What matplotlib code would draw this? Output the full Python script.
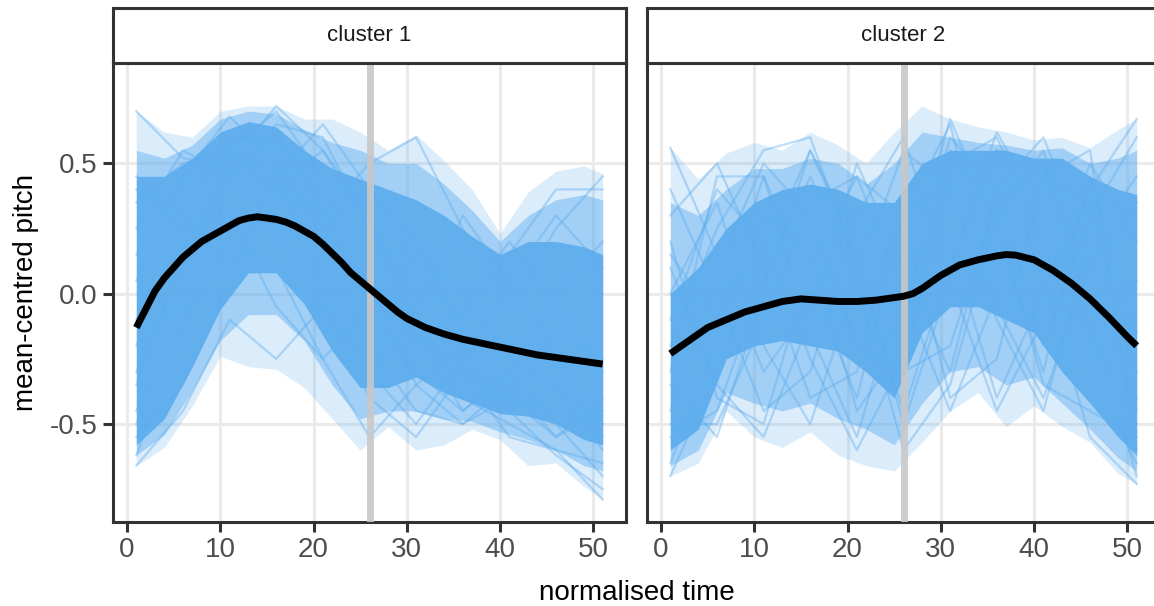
import matplotlib.pyplot as plt
import numpy as np

plt.rcParams['font.family'] = ['Liberation Sans', 'DejaVu Sans']

### Data ###

panel_titles = ['cluster 1', 'cluster 2']
boundary_time = 26

# envelope knots: outer fringe, medium-density band, dense core
env_time = [1, 4, 7, 10, 13, 16, 19, 22, 25, 28, 31, 34, 37, 40, 43, 46, 49, 51]

c1_outer_hi = [0.70, 0.62, 0.60, 0.70, 0.72, 0.72, 0.67, 0.67, 0.62, 0.55, 0.61, 0.51, 0.40, 0.23, 0.39, 0.47, 0.49, 0.46]
c1_outer_lo = [-0.66, -0.59, -0.43, -0.24, -0.28, -0.29, -0.36, -0.48, -0.60, -0.51, -0.60, -0.58, -0.52, -0.56, -0.66, -0.65, -0.74, -0.79]
c1_mid_hi = [0.55, 0.52, 0.57, 0.67, 0.70, 0.69, 0.63, 0.58, 0.55, 0.50, 0.50, 0.42, 0.32, 0.20, 0.30, 0.36, 0.38, 0.36]
c1_mid_lo = [-0.62, -0.54, -0.37, -0.18, -0.08, -0.08, -0.18, -0.35, -0.48, -0.45, -0.45, -0.48, -0.49, -0.53, -0.56, -0.60, -0.66, -0.68]
c1_core_hi = [0.45, 0.45, 0.52, 0.62, 0.66, 0.64, 0.55, 0.48, 0.44, 0.40, 0.36, 0.30, 0.22, 0.15, 0.20, 0.20, 0.18, 0.15]
c1_core_lo = [-0.58, -0.48, -0.28, -0.06, 0.08, 0.08, -0.04, -0.22, -0.36, -0.36, -0.32, -0.38, -0.42, -0.46, -0.47, -0.50, -0.56, -0.58]

c2_outer_hi = [0.56, 0.44, 0.54, 0.58, 0.55, 0.62, 0.57, 0.50, 0.62, 0.72, 0.67, 0.64, 0.62, 0.59, 0.60, 0.56, 0.63, 0.67]
c2_outer_lo = [-0.70, -0.65, -0.45, -0.55, -0.59, -0.53, -0.62, -0.66, -0.68, -0.57, -0.45, -0.38, -0.51, -0.43, -0.51, -0.57, -0.69, -0.73]
c2_mid_hi = [0.35, 0.30, 0.40, 0.48, 0.48, 0.52, 0.50, 0.42, 0.50, 0.62, 0.60, 0.58, 0.57, 0.55, 0.56, 0.50, 0.52, 0.55]
c2_mid_lo = [-0.66, -0.60, -0.38, -0.42, -0.45, -0.42, -0.48, -0.52, -0.58, -0.42, -0.30, -0.28, -0.35, -0.32, -0.42, -0.52, -0.63, -0.68]
c2_core_hi = [0.00, 0.10, 0.25, 0.35, 0.40, 0.42, 0.40, 0.35, 0.35, 0.50, 0.55, 0.55, 0.55, 0.52, 0.52, 0.45, 0.40, 0.38]
c2_core_lo = [-0.60, -0.52, -0.25, -0.20, -0.18, -0.20, -0.22, -0.30, -0.40, -0.15, -0.05, -0.05, -0.10, -0.15, -0.30, -0.42, -0.55, -0.62]

# individual trajectories, sampled every 5 steps
trace_time = [1, 6, 11, 16, 21, 26, 31, 36, 41, 46, 51]

c1_traces = [
    [0.70, 0.52, 0.50, 0.40, 0.20, 0.05, -0.15, -0.30, -0.40, -0.45, -0.50],
    [-0.62, -0.15, 0.45, 0.62, 0.30, -0.05, -0.30, -0.45, -0.30, -0.50, -0.70],
    [-0.45, 0.00, 0.55, 0.70, 0.45, 0.05, -0.35, -0.20, -0.45, -0.35, -0.60],
    [-0.20, 0.25, 0.62, 0.55, 0.20, -0.20, -0.45, -0.50, -0.35, -0.55, -0.45],
    [0.35, 0.50, 0.55, 0.40, 0.30, 0.50, 0.60, 0.25, -0.05, 0.25, 0.45],
    [-0.66, -0.45, -0.10, -0.25, -0.05, -0.40, -0.55, -0.30, -0.55, -0.60, -0.79],
    [0.45, 0.30, 0.10, 0.45, 0.65, 0.40, 0.10, -0.10, 0.15, 0.40, 0.40],
    [0.05, 0.45, 0.68, 0.50, 0.25, 0.40, 0.20, -0.15, -0.40, -0.15, -0.25],
    [-0.55, -0.35, 0.05, 0.40, 0.55, 0.30, -0.10, -0.40, -0.50, -0.60, -0.65],
    [0.15, 0.45, 0.50, 0.25, -0.05, -0.30, -0.50, -0.25, -0.45, -0.62, -0.75],
    [-0.30, 0.10, 0.50, 0.72, 0.55, 0.25, 0.00, -0.25, 0.05, 0.30, 0.10],
    [0.40, 0.25, 0.30, -0.05, -0.25, -0.05, 0.15, 0.00, -0.25, -0.35, -0.50],
    [-0.10, 0.35, 0.60, 0.60, 0.35, 0.00, -0.20, -0.05, 0.20, -0.05, -0.30],
    [-0.50, -0.10, 0.20, 0.10, -0.25, -0.55, -0.35, -0.50, -0.40, -0.55, -0.40],
    [0.25, 0.55, 0.45, 0.65, 0.60, 0.25, -0.15, -0.45, -0.30, 0.00, 0.20],
    [-0.35, 0.15, 0.55, 0.45, 0.05, -0.30, -0.10, 0.30, 0.05, -0.25, -0.55],
]

c2_traces = [
    [0.56, 0.15, -0.30, -0.05, 0.35, -0.10, 0.60, 0.40, -0.20, 0.30, 0.60],
    [-0.70, -0.30, 0.15, 0.55, 0.15, -0.50, 0.05, 0.55, 0.50, 0.05, -0.45],
    [-0.30, 0.45, 0.45, -0.15, -0.55, 0.05, 0.67, 0.25, -0.30, 0.45, -0.15],
    [0.20, -0.40, -0.50, 0.10, 0.45, 0.30, -0.40, -0.25, 0.45, 0.55, -0.60],
    [-0.55, -0.45, 0.05, 0.45, 0.05, -0.60, -0.35, 0.30, 0.55, -0.10, -0.70],
    [0.00, 0.35, -0.20, -0.50, 0.05, 0.55, 0.40, -0.10, -0.45, 0.20, 0.45],
    [-0.45, 0.10, 0.50, 0.30, -0.20, -0.30, 0.50, 0.60, 0.20, -0.30, -0.65],
    [0.30, 0.50, 0.10, -0.40, -0.30, 0.40, 0.20, -0.40, 0.00, 0.50, 0.20],
    [-0.65, -0.20, 0.30, 0.20, -0.45, -0.20, 0.55, 0.30, -0.35, -0.45, -0.55],
    [0.10, -0.35, -0.55, -0.10, 0.50, 0.10, -0.30, 0.40, 0.60, 0.15, -0.40],
    [-0.20, 0.25, 0.55, 0.60, 0.10, -0.45, 0.10, 0.62, 0.30, -0.20, 0.05],
    [0.40, 0.00, -0.45, -0.30, 0.30, 0.60, 0.05, -0.45, -0.10, 0.40, 0.67],
    [-0.50, -0.50, -0.10, 0.35, 0.45, 0.00, -0.45, 0.00, 0.45, 0.35, -0.30],
    [-0.10, 0.40, 0.20, -0.25, -0.60, -0.25, 0.45, 0.55, 0.05, -0.55, -0.73],
    [0.15, -0.10, 0.45, 0.05, -0.40, 0.30, 0.65, -0.05, -0.40, 0.10, 0.35],
    [-0.35, -0.55, 0.00, 0.55, 0.20, -0.30, -0.20, 0.35, 0.50, -0.15, -0.50],
]

# mean (smoothed) curves
c1_mean_time = [1, 2, 3, 4, 5, 6, 7, 8, 9, 10, 11, 12, 13, 14, 15, 16, 17, 18, 19, 20,
                21, 22, 23, 24, 25, 26, 27, 28, 29, 30, 32, 34, 36, 38, 40, 42, 44, 46, 48, 51]
c1_mean = [-0.13, -0.06, 0.01, 0.06, 0.10, 0.14, 0.17, 0.20, 0.22, 0.24, 0.26, 0.28, 0.29, 0.295,
           0.29, 0.285, 0.275, 0.26, 0.24, 0.22, 0.19, 0.155, 0.12, 0.08, 0.05, 0.02, -0.01,
           -0.04, -0.07, -0.095, -0.13, -0.155, -0.175, -0.19, -0.205, -0.22, -0.235, -0.245,
           -0.255, -0.27]
c2_mean_time = [1, 3, 5, 7, 9, 11, 13, 15, 17, 19, 21, 23, 25, 26, 27, 28, 29, 30, 31, 32,
                34, 36, 37, 38, 40, 42, 44, 46, 48, 50, 51]
c2_mean = [-0.23, -0.18, -0.13, -0.10, -0.07, -0.05, -0.03, -0.02, -0.025, -0.03, -0.03, -0.025,
           -0.015, -0.01, 0.00, 0.02, 0.045, 0.07, 0.09, 0.11, 0.13, 0.145, 0.15, 0.148, 0.13,
           0.09, 0.04, -0.02, -0.09, -0.165, -0.20]

clusters = [
    (c1_outer_lo, c1_outer_hi, c1_mid_lo, c1_mid_hi, c1_core_lo, c1_core_hi, c1_traces, c1_mean_time, c1_mean),
    (c2_outer_lo, c2_outer_hi, c2_mid_lo, c2_mid_hi, c2_core_lo, c2_core_hi, c2_traces, c2_mean_time, c2_mean),
]

### Plotting ###

blue = '#5CACEE'
W, H = 1154, 606
fig = plt.figure(figsize=(W / 100, H / 100), dpi=100)

panel_left = [113, 647]
panel_w = 513
panel_top, panel_bot = 63, 522
strip_top = 8

for k, (olo, ohi, mlo, mhi, clo, chi, traces, mt, mv) in enumerate(clusters):
    x0 = panel_left[k]
    ax = fig.add_axes([x0 / W, (H - panel_bot) / H, panel_w / W, (panel_bot - panel_top) / H])
    ax.fill_between(env_time, olo, ohi, color=blue, alpha=0.22, lw=0, zorder=1)
    ax.fill_between(env_time, mlo, mhi, color=blue, alpha=0.45, lw=0, zorder=1.5)
    for tr in traces:
        ax.plot(trace_time, tr, color=blue, alpha=0.4, lw=1.6, zorder=2)
    ax.fill_between(env_time, clo, chi, color=blue, alpha=0.9, lw=0, zorder=3)
    ax.axvline(boundary_time, color='#C8C8C8', lw=5, alpha=0.9, zorder=4)
    ax.plot(mt, mv, color='black', lw=5, zorder=5, solid_capstyle='butt')

    ax.set_xlim(-1.5, 53.5)
    ax.set_ylim(-0.876, 0.885)
    ax.set_xticks([0, 10, 20, 30, 40, 50])
    ax.set_yticks([-0.5, 0.0, 0.5])
    ax.grid(color='#EBEBEB', lw=2.2)
    ax.set_axisbelow(True)
    for s in ax.spines.values():
        s.set_color('#333333')
        s.set_linewidth(2.2)
    ax.tick_params(length=7, width=2.2, color='#333333', labelsize=20,
                   labelcolor='#4D4D4D', pad=4)
    if k == 0:
        ax.set_yticklabels(['-0.5', '0.0', '0.5'])
        ax.set_ylabel('mean-centred pitch', fontsize=20, labelpad=8)
    else:
        ax.tick_params(axis='y', left=False, labelleft=False)

    # facet strip
    sax = fig.add_axes([x0 / W, (H - panel_top) / H, panel_w / W, (panel_top - strip_top) / H])
    sax.set_xticks([])
    sax.set_yticks([])
    for s in sax.spines.values():
        s.set_color('#333333')
        s.set_linewidth(2.2)
    sax.text(0.5, 0.5, panel_titles[k], ha='center', va='center', fontsize=16,
             color='#1A1A1A', transform=sax.transAxes)

fig.text((113 + 1160) / 2 / W, 1 - 593 / H, 'normalised time', ha='center', va='center', fontsize=20)

fig.savefig('out.png', dpi=100)
